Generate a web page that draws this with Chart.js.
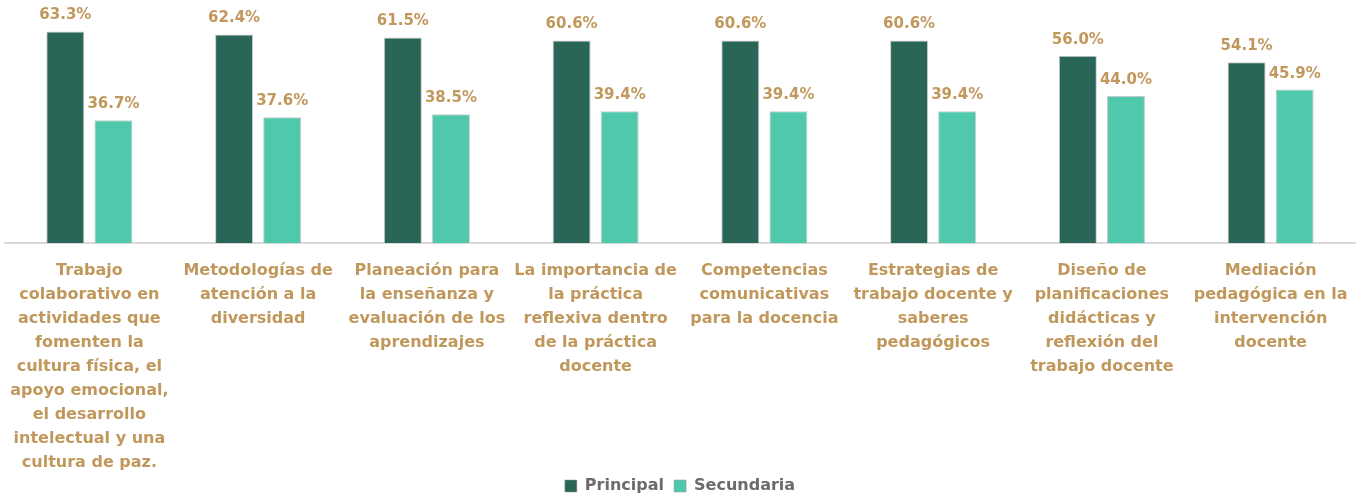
<!DOCTYPE html>
<html>
<head>
<meta charset="utf-8">
<script src="https://cdn.jsdelivr.net/npm/chart.js@4.4.0/dist/chart.umd.min.js"></script>
<style>
  html, body { margin: 0; padding: 0; background: #fff; }
  #wrap { width: 1371px; height: 496px; }
</style>
</head>
<body>
<div id="wrap"><canvas id="chart"></canvas></div>
<script>
// categorías (líneas ya cortadas como en la imagen)
const categories = [
    ['Trabajo', 'colaborativo en', 'actividades que', 'fomenten la', 'cultura física, el', 'apoyo emocional,', 'el desarrollo', 'intelectual y una', 'cultura de paz.'],
    ['Metodologías de', 'atención a la', 'diversidad'],
    ['Planeación para', 'la enseñanza y', 'evaluación de los', 'aprendizajes'],
    ['La importancia de', 'la práctica', 'reflexiva dentro', 'de la práctica', 'docente'],
    ['Competencias', 'comunicativas', 'para la docencia'],
    ['Estrategias de', 'trabajo docente y', 'saberes', 'pedagógicos'],
    ['Diseño de', 'planificaciones', 'didácticas y', 'reflexión del', 'trabajo docente'],
    ['Mediación', 'pedagógica en la', 'intervención', 'docente']
];

const principal = [63.3, 62.4, 61.5, 60.6, 60.6, 60.6, 56.0, 54.1];
const secundaria = [36.7, 37.6, 38.5, 39.4, 39.4, 39.4, 44.0, 45.9];

const FONT = '"DejaVu Sans", sans-serif';
const GOLD = '#C0985C';

// etiquetas de valor encima de cada barra
const valueLabels = {
    id: 'valueLabels',
    afterLayout(chart) {
        // que las etiquetas del eje x no se recorten
        chart.scales.x.bottom = chart.height;
    },
    afterDatasetsDraw(chart) {
        const ctx = chart.ctx;
        ctx.save();
        ctx.font = `bold 15px ${FONT}`;
        ctx.fillStyle = GOLD;
        ctx.textAlign = 'center';
        ctx.textBaseline = 'alphabetic';
        chart.data.datasets.forEach((ds, i) => {
            chart.getDatasetMeta(i).data.forEach((bar, j) => {
                ctx.fillText(ds.data[j].toFixed(1) + '%', bar.x, bar.y - 12);
            });
        });
        ctx.restore();
    }
};

new Chart(document.getElementById('chart'), {
    type: 'bar',
    data: {
        labels: categories,
        datasets: [
            {
                label: 'Principal',
                data: principal,
                backgroundColor: '#2A6657',
                borderColor: 'rgba(150,150,150,0.5)',
                borderWidth: 1,
                categoryPercentage: 0.57,
                barPercentage: 0.79
            },
            {
                label: 'Secundaria',
                data: secundaria,
                backgroundColor: '#4FC8AB',
                borderColor: 'rgba(150,150,150,0.5)',
                borderWidth: 1,
                categoryPercentage: 0.57,
                barPercentage: 0.79
            }
        ]
    },
    options: {
        responsive: true,
        maintainAspectRatio: false,
        animation: false,
        layout: { padding: { left: 5, right: 16, top: 0, bottom: -8 } },
        scales: {
            x: {
                grid: { display: false, drawTicks: false },
                border: { display: true, color: '#D9D9D9', width: 2 },
                ticks: {
                    color: GOLD,
                    font: { family: FONT, size: 16, weight: 'bold', lineHeight: 1.5 },
                    padding: 16,
                    maxRotation: 0,
                    autoSkip: false
                },
                afterFit(scale) {
                    scale.height -= 23;
                    scale.paddingLeft = 0;
                    scale.paddingRight = 0;
                }
            },
            y: {
                display: false,
                min: 0,
                max: 72.7
            }
        },
        plugins: {
            legend: {
                position: 'bottom',
                labels: {
                    color: '#6B6B6B',
                    font: { family: FONT, size: 16, weight: 'bold' },
                    boxWidth: 12,
                    boxHeight: 12,
                    padding: 10
                }
            },
            tooltip: { enabled: false }
        }
    },
    plugins: [valueLabels]
});
</script>
</body>
</html>
